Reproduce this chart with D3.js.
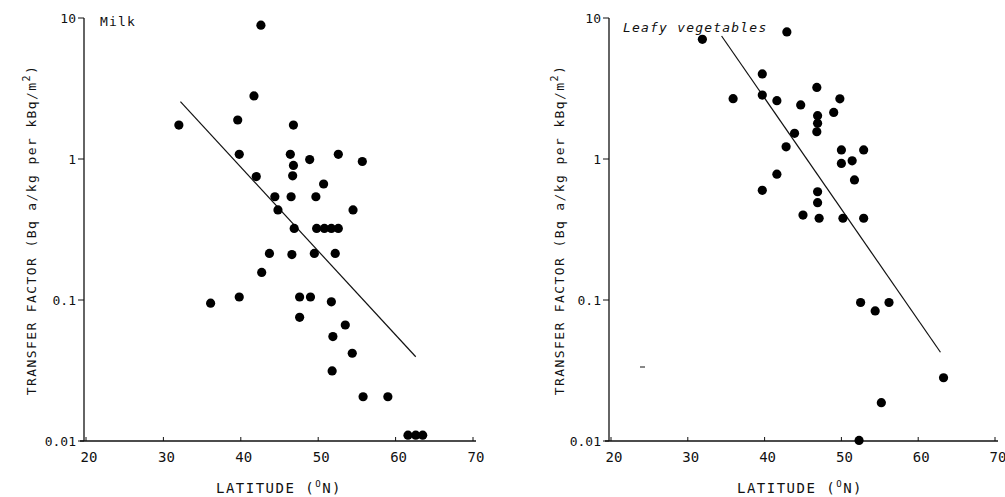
<!DOCTYPE html>
<html>
<head>
  <script src="https://d3js.org/d3.v7.min.js"></script>
  <style>
    body {
      margin: 0;
      background-color: #fff;
      overflow: hidden;
    }
    text {
      font-family: "DejaVu Sans Mono", monospace;
      fill: #111;
    }
  </style>
</head>
<body>
  <script>
    // Milk panel
    const milkLat = [42.6, 41.7, 32.0, 39.6, 46.8, 39.8, 46.4, 48.9, 52.6, 55.7, 46.8, 46.7, 42.0, 50.7,
      44.4, 46.5, 49.7, 44.8, 54.5, 46.9, 49.8, 50.8, 51.7, 52.6, 36.1, 39.8, 43.7, 46.6, 49.5, 52.2,
      42.7, 47.6, 49.0, 51.7, 47.6, 53.5, 51.9, 54.4, 51.8, 55.8, 59.0, 61.6, 62.6, 63.5];
    const milkTF = [8.9, 2.8, 1.74, 1.89, 1.74, 1.08, 1.08, 0.99, 1.08, 0.96, 0.90, 0.76, 0.75, 0.665,
      0.54, 0.54, 0.54, 0.435, 0.435, 0.322, 0.322, 0.322, 0.322, 0.322, 0.095, 0.105, 0.214, 0.21, 0.214, 0.214,
      0.157, 0.105, 0.105, 0.097, 0.0754, 0.0665, 0.055, 0.0419, 0.0314, 0.0206, 0.0206, 0.011, 0.011, 0.011];
    const milkFitLat = [32.2, 62.6];
    const milkFitTF = [2.55, 0.0396];

    // Leafy vegetables panel
    const leafyLat = [31.9, 42.9, 35.9, 39.7, 39.7, 41.6, 46.8, 44.7, 49.8, 49.0, 46.9, 46.9, 46.8, 43.9,
      42.8, 50.0, 52.9, 50.0, 51.4, 51.7, 41.6, 39.7, 46.9, 46.9, 45.0, 47.1, 50.2, 52.9,
      52.5, 54.4, 56.2, 63.3, 55.2, 52.3];
    const leafyTF = [7.06, 7.96, 2.68, 4.01, 2.84, 2.59, 3.22, 2.42, 2.67, 2.14, 2.03, 1.79, 1.56, 1.52,
      1.22, 1.16, 1.16, 0.93, 0.97, 0.71, 0.78, 0.60, 0.586, 0.49, 0.40, 0.38, 0.38, 0.38,
      0.096, 0.0836, 0.096, 0.0281, 0.0187, 0.0101];
    const leafyFitLat = [34.4, 62.9];
    const leafyFitTF = [7.45, 0.0426];

    const xTicks = [20, 30, 40, 50, 60, 70];
    const yTicks = [0.01, 0.1, 1, 10];
    const yTickLabels = ["0.01", "0.1", "1", "10"];

    const width = 1005, height = 497;
    const svg = d3.select("body").append("svg")
      .attr("width", width)
      .attr("height", height);

    function panel(opt) {
      const x = d3.scaleLinear().domain([20, 70]).range([opt.x0, opt.x1]);
      const y = d3.scaleLog().domain([0.01, 10]).range([441, 18]);
      const g = svg.append("g");

      // axis lines
      g.append("line")
        .attr("x1", opt.x0 - 2).attr("x2", opt.x0 - 2)
        .attr("y1", y(10)).attr("y2", y(0.01))
        .attr("stroke", "#111").attr("stroke-width", 1.3);
      g.append("line")
        .attr("x1", opt.x0 - 6).attr("x2", opt.x1 + 3)
        .attr("y1", y(0.01)).attr("y2", y(0.01))
        .attr("stroke", "#111").attr("stroke-width", 1.3);

      // x ticks
      g.selectAll(".xt").data(xTicks).enter().append("line")
        .attr("x1", d => x(d)).attr("x2", d => x(d))
        .attr("y1", y(0.01)).attr("y2", y(0.01) - 4)
        .attr("stroke", "#111");
      g.selectAll(".xl").data(xTicks).enter().append("text")
        .attr("x", d => x(d) + 3).attr("y", 462)
        .attr("text-anchor", "middle")
        .attr("font-size", 14)
        .text(d => d);

      // y ticks
      g.selectAll(".yt").data(yTicks).enter().append("line")
        .attr("x1", opt.x0 - 8).attr("x2", opt.x0 - 2)
        .attr("y1", d => y(d)).attr("y2", d => y(d))
        .attr("stroke", "#111");
      g.selectAll(".yl").data(yTicks).enter().append("text")
        .attr("x", opt.x0 - 10).attr("y", d => y(d) + 5)
        .attr("text-anchor", "end")
        .attr("font-size", 13)
        .text((d, i) => yTickLabels[i]);

      // axis titles
      const xt = g.append("text")
        .attr("x", opt.xTitleX).attr("y", 493)
        .attr("text-anchor", "middle")
        .attr("font-size", 14)
        .attr("letter-spacing", 1.5);
      xt.append("tspan").text("LATITUDE (");
      xt.append("tspan").attr("font-size", 9).attr("dy", -6).text("O");
      xt.append("tspan").attr("dy", 6).text("N)");

      const yt = g.append("text")
        .attr("transform", `translate(${opt.yTitleX},230) rotate(-90)`)
        .attr("text-anchor", "middle")
        .attr("font-size", 13)
        .attr("letter-spacing", 1.4);
      yt.append("tspan").text("TRANSFER FACTOR (Bq a/kg per kBq/m");
      yt.append("tspan").attr("font-size", 10).attr("dy", -6).text("2");
      yt.append("tspan").attr("dy", 6).text(")");

      g.append("text")
        .attr("x", opt.labelX).attr("y", opt.labelY)
        .attr("font-size", 13)
        .attr("font-style", opt.italic ? "italic" : "normal")
        .attr("letter-spacing", 1.2)
        .text(opt.label);

      // regression line
      const fit = d3.line().x(d => x(d[0])).y(d => y(d[1]));
      g.append("path")
        .datum(d3.zip(opt.fitLat, opt.fitTF))
        .attr("d", fit)
        .attr("fill", "none")
        .attr("stroke", "#111")
        .attr("stroke-width", 1.2);

      // points
      g.selectAll("circle").data(d3.zip(opt.lat, opt.tf)).enter().append("circle")
        .attr("cx", d => x(d[0]))
        .attr("cy", d => y(d[1]))
        .attr("r", 4.6)
        .attr("fill", "#000");
    }

    panel({ x0: 86, x1: 473, lat: milkLat, tf: milkTF, fitLat: milkFitLat, fitTF: milkFitTF,
      label: "Milk", labelX: 100, labelY: 26, italic: false, xTitleX: 279, yTitleX: 36 });
    panel({ x0: 611, x1: 995, lat: leafyLat, tf: leafyTF, fitLat: leafyFitLat, fitTF: leafyFitTF,
      label: "Leafy vegetables", labelX: 623, labelY: 32, italic: true, xTitleX: 800, yTitleX: 564 });

    // stray mark from the scan
    svg.append("line")
      .attr("x1", 640).attr("x2", 645).attr("y1", 367).attr("y2", 367)
      .attr("stroke", "#111");
  </script>
</body>
</html>
